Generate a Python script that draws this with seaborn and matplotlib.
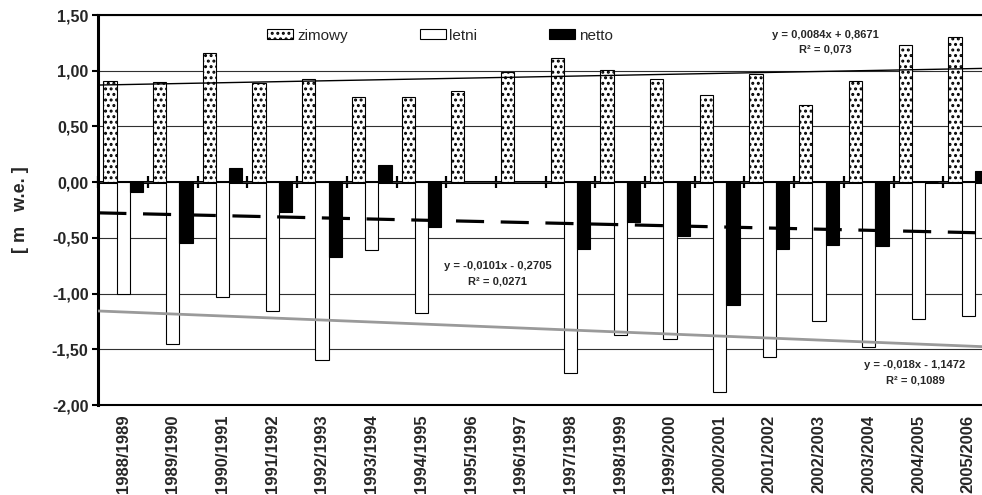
import numpy as np
import pandas as pd
import matplotlib
matplotlib.use("Agg")
import matplotlib.pyplot as plt
from matplotlib.patches import Patch
from matplotlib.ticker import MultipleLocator, FuncFormatter
import seaborn as sns

# bilans masy lodowca [m w.e.] w kolejnych latach hydrologicznych
sezony = ["1988/1989", "1989/1990", "1990/1991", "1991/1992", "1992/1993",
          "1993/1994", "1994/1995", "1995/1996", "1996/1997", "1997/1998",
          "1998/1999", "1999/2000", "2000/2001", "2001/2002", "2002/2003",
          "2003/2004", "2004/2005", "2005/2006"]
zimowy = [0.91, 0.90, 1.16, 0.89, 0.93, 0.76, 0.76, 0.82, 0.99, 1.11,
          1.01, 0.93, 0.78, 0.97, 0.69, 0.91, 1.23, 1.30]
letni = [-1.00, -1.45, -1.03, -1.16, -1.60, -0.61, -1.17, np.nan, np.nan, -1.71,
         -1.37, -1.41, -1.88, -1.57, -1.25, -1.48, -1.23, -1.20]
netto = [-0.09, -0.55, 0.13, -0.27, -0.67, 0.15, -0.40, np.nan, np.nan, -0.60,
         -0.36, -0.48, -1.10, -0.60, -0.56, -0.57, 0.00, 0.10]

serie = ["zimowy", "letni", "netto"]
# linie trendu (z wykresu): y = a*x + b, x = 1..18
trend_a = [0.0084, -0.018, -0.0101]
trend_b = [0.8671, -1.1472, -0.2705]
trend_txt = ["y = 0,0084x + 0,8671\nR² = 0,073",
             "y = -0,018x - 1,1472\nR² = 0,1089",
             "y = -0,0101x - 0,2705\nR² = 0,0271"]

df = pd.DataFrame({"sezon": sezony, "zimowy": zimowy, "letni": letni, "netto": netto})
dlugi = df.melt(id_vars="sezon", var_name="seria", value_name="bilans")

sns.set_theme(style="white")
plt.rcParams["font.family"] = ["Liberation Sans", "DejaVu Sans"]
plt.rcParams["hatch.linewidth"] = 1.4

fig = plt.figure(figsize=(9.82, 4.95), dpi=100)
ax = fig.add_axes([98.3 / 982, 90 / 495, (993 - 98.3) / 982, 390 / 495])

kolory = {"zimowy": "white", "letni": "white", "netto": "black"}
sns.barplot(data=dlugi, x="sezon", y="bilans", hue="seria", hue_order=serie,
            palette=kolory, saturation=1, edgecolor="black", linewidth=0.8,
            width=0.8, errorbar=None, legend=False, ax=ax, zorder=2)
for bar in ax.containers[0]:
    bar.set_hatch("...")

ax.set_xlim(-0.5, len(sezony) - 0.5)
ax.set_ylim(-2.0, 1.5)

# trendy
xs = np.array([-0.5, len(sezony) - 0.5])
style = [dict(color="black", lw=1.0),
         dict(color="#9a9a9a", lw=2.0),
         dict(color="black", lw=2.3, linestyle=(0, (8.8, 5.2)))]
for a, b, st in zip(trend_a, trend_b, style):
    ax.plot(xs, a * (xs + 1) + b, zorder=4, **st)

# opisy trendow
ax.text(14.12, 1.253, trend_txt[0], ha="center", va="center", fontsize=8,
        fontweight="bold", linespacing=1.6, zorder=5)
ax.text(15.93, -1.711, trend_txt[1], ha="center", va="center", fontsize=8,
        fontweight="bold", linespacing=1.6, zorder=5)
ax.text(7.54, -0.823, trend_txt[2], ha="center", va="center", fontsize=8,
        fontweight="bold", linespacing=1.6, zorder=5)

# os Y
ax.yaxis.set_major_locator(MultipleLocator(0.5))
ax.yaxis.set_major_formatter(FuncFormatter(lambda v, p: f"{round(v, 2):.2f}".replace(".", ",").replace("-0,00", "0,00")))
ax.tick_params(axis="y", left=True, direction="out", length=4, width=1.5,
               labelsize=11.5, pad=3, color="black")
for t in ax.get_yticklabels():
    t.set_fontweight("bold")
ax.yaxis.grid(True, color="#303030", lw=0.8)
ax.set_axisbelow(True)
ax.set_ylabel("[ m   w.e. ]", fontsize=13, fontweight="bold")
ax.yaxis.set_label_coords(-0.077, 0.5)

# os X - etykiety na dole
ax.set_xlabel("")
ax.tick_params(axis="x", bottom=False, length=0, labelsize=12, pad=7)
ax.set_xticks(range(len(sezony)))
ax.set_xticklabels(sezony, rotation=90, fontweight="bold")

for s in ["top", "bottom"]:
    ax.spines[s].set_color("black")
    ax.spines[s].set_linewidth(1.5)
ax.spines["left"].set_color("black")
ax.spines["left"].set_linewidth(2.2)
ax.spines["right"].set_visible(False)

# os zerowa z kreskami miedzy kategoriami
zero = ax.secondary_xaxis(0, transform=ax.transData)
zero.set_xticks(np.arange(-0.5, len(sezony), 1.0))
zero.tick_params(axis="x", direction="inout", length=8, width=1.6,
                 labelbottom=False, labeltop=False, color="black")
for s in zero.spines.values():
    s.set_color("black")
    s.set_linewidth(2.2)

# legenda
uchwyty = [Patch(facecolor="white", edgecolor="black", hatch="...", lw=0.8),
           Patch(facecolor="white", edgecolor="black", lw=0.8),
           Patch(facecolor="black", edgecolor="black", lw=0.8)]
ax.legend(uchwyty, serie, loc="center", bbox_to_anchor=(0.382, 0.947), ncol=3,
          frameon=False, fontsize=11, handlelength=1.7, handleheight=0.62,
          handletextpad=0.25, columnspacing=4.7, borderaxespad=0)

fig.savefig("out.png", dpi=100)
